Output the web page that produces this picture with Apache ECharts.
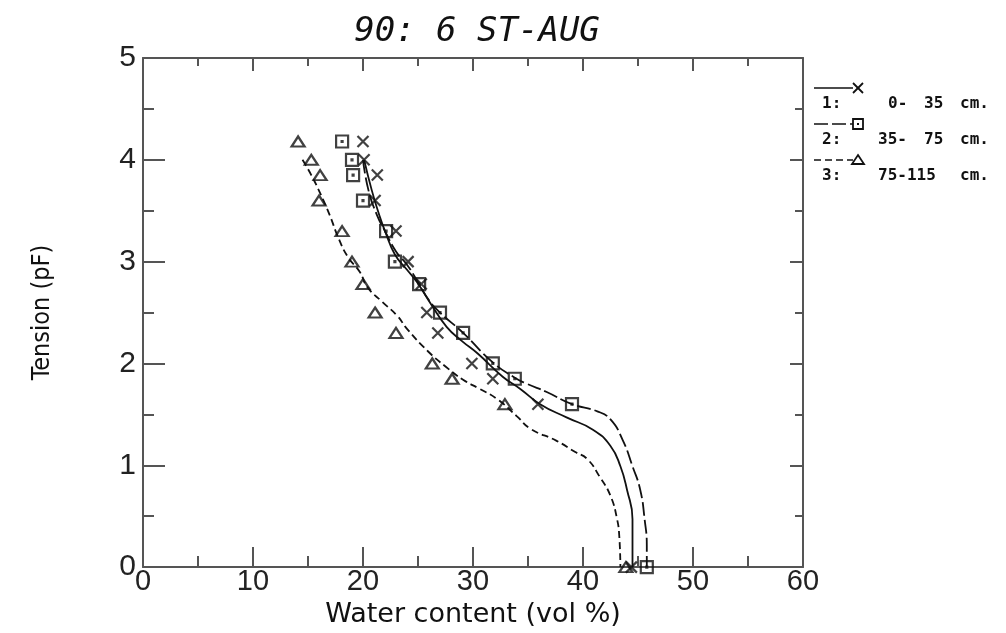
<!DOCTYPE html>
<html>
<head>
<meta charset="utf-8">
<script src="https://cdn.jsdelivr.net/npm/echarts@6/dist/echarts.min.js"></script>
<style>
  html, body { margin: 0; padding: 0; background: #fff; }
  #chart { width: 1006px; height: 633px; }
</style>
</head>
<body>
<div id="chart"></div>
<script>
  // 测点的吸力水平 (pF)
  var tension_levels = [4.18, 4.0, 3.85, 3.6, 3.3, 3.0, 2.78, 2.5, 2.3, 2.0, 1.85, 1.6, 0]
  // 各层实测含水量 (vol %)
  var water_1 = [20.0, 20.1, 21.3, 21.1, 23.0, 24.1, 25.3, 25.8, 26.8, 29.9, 31.8, 35.9, 44.4]
  var water_2 = [18.1, 19.0, 19.1, 20.0, 22.1, 22.9, 25.1, 27.0, 29.1, 31.8, 33.8, 39.0, 45.8]
  var water_3 = [14.1, 15.3, 16.1, 16.0, 18.1, 19.0, 20.0, 21.1, 23.0, 26.3, 28.1, 32.9, 43.9]

  // 拟合曲线
  var curve_1_x = [20.1, 20.8, 21.5, 22.0, 22.9, 24.0, 24.9, 26.2, 27.6, 29.0, 30.4, 32.7, 34.3, 36.1, 38.5, 40.9, 42.5, 43.4, 44.0, 44.5, 44.5, 44.5]
  var curve_1_y = [4.0, 3.7, 3.45, 3.3, 3.07, 2.92, 2.8, 2.58, 2.36, 2.22, 2.1, 1.87, 1.75, 1.6, 1.47, 1.35, 1.19, 0.99, 0.76, 0.47, 0.21, 0]
  var curve_2_x = [20.0, 20.5, 21.3, 22.0, 23.0, 24.0, 25.0, 26.0, 27.0, 29.1, 31.8, 33.8, 34.9, 36.7, 39.0, 41.3, 42.5, 43.6, 44.5, 45.2, 45.6, 45.8, 45.8]
  var curve_2_y = [4.0, 3.7, 3.45, 3.3, 3.1, 2.97, 2.8, 2.62, 2.5, 2.3, 2.01, 1.86, 1.8, 1.72, 1.6, 1.53, 1.45, 1.25, 0.99, 0.76, 0.47, 0.21, 0]
  var curve_3_x = [14.5, 15.3, 16.2, 17.0, 17.7, 18.6, 19.7, 20.4, 21.8, 23.1, 24.0, 25.9, 27.5, 29.1, 30.6, 32.2, 34.0, 35.2, 37.6, 39.3, 40.4, 41.5, 42.5, 43.1, 43.3, 43.4]
  var curve_3_y = [4.0, 3.85, 3.65, 3.45, 3.25, 3.05, 2.9, 2.75, 2.6, 2.47, 2.34, 2.12, 1.97, 1.84, 1.75, 1.65, 1.48, 1.36, 1.24, 1.13, 1.06, 0.89, 0.7, 0.47, 0.3, 0]

  var x_ticks = [0, 10, 20, 30, 40, 50, 60]
  var y_ticks = [0, 1, 2, 3, 4, 5]
  var legend_labels = [
    ['1:', '0-', '35', 'cm.'],
    ['2:', '35-', '75', 'cm.'],
    ['3:', '75-115', '', 'cm.']
  ]

  var pairs = function (xs, ys) {
    return xs.map(function (v, i) { return [v, ys[i]] })
  }

  var sym_cross = 'path://M0,0L10,10M10,0L0,10'
  var sym_square = 'path://M0,0H10V10H0Z M4.6,4.6H5.4V5.4H4.6Z'
  var sym_tri = 'path://M5,0L10,9L0,9Z'
  var ink = '#111'
  var axis_color = '#555'
  var tick_font = 'Liberation Sans'

  var my_chart = echarts.init(document.getElementById('chart'))

  var marker_series = function (name, data, sym, size) {
    return {
      name: name,
      type: 'scatter',
      xAxisIndex: 0,
      yAxisIndex: 0,
      data: data,
      symbol: sym,
      symbolSize: size,
      clip: false,
      z: 5,
      itemStyle: { color: 'rgba(0,0,0,0)', borderColor: ink, borderWidth: 2.2 }
    }
  }
  var curve_series = function (name, data, dash) {
    return {
      name: name,
      type: 'line',
      xAxisIndex: 0,
      yAxisIndex: 0,
      data: data,
      showSymbol: false,
      smooth: 0.5,
      z: 4,
      lineStyle: { color: ink, width: 1.8, type: dash }
    }
  }

  // 四周坐标轴的公共样式
  var frame_axis = function (tick_len, minor_len) {
    return {
      axisLine: { show: true, onZero: false, lineStyle: { color: axis_color, width: 2 } },
      axisTick: { show: true, inside: true, length: tick_len, lineStyle: { color: axis_color, width: 2 } },
      minorTick: { show: true, splitNumber: 2, length: minor_len, lineStyle: { color: axis_color, width: 2 } },
      splitLine: { show: false }
    }
  }

  // 右侧图例 (线段 + 符号 + 文字)
  var legend_graphic = []
  var legend_dash = [null, [14, 4], [7, 4]]
  var stroke_style = { fill: 'none', stroke: ink, lineWidth: 1.8 }
  for (var k = 0; k < 3; k++) {
    var ly = 88 + k * 36
    var mx = 858
    legend_graphic.push({
      type: 'line',
      shape: { x1: 814, y1: ly, x2: mx - 5, y2: ly },
      style: { stroke: ink, lineWidth: 1.6, lineDash: legend_dash[k] }
    })
    if (k === 0) {
      legend_graphic.push({ type: 'line', shape: { x1: mx - 5, y1: ly - 5, x2: mx + 5, y2: ly + 5 }, style: stroke_style })
      legend_graphic.push({ type: 'line', shape: { x1: mx - 5, y1: ly + 5, x2: mx + 5, y2: ly - 5 }, style: stroke_style })
    } else if (k === 1) {
      legend_graphic.push({ type: 'rect', shape: { x: mx - 5, y: ly - 5, width: 10, height: 10 }, style: stroke_style })
      legend_graphic.push({ type: 'rect', shape: { x: mx - 1, y: ly - 1, width: 2, height: 2 }, style: { fill: ink } })
    } else {
      legend_graphic.push({ type: 'polygon', shape: { points: [[mx, ly - 5], [mx + 6, ly + 4], [mx - 6, ly + 4]] }, style: stroke_style })
    }
    var parts = legend_labels[k]
    var px = [822, 888, 924, 960]
    if (k > 0) px[1] = 878
    for (var p = 0; p < 4; p++) {
      if (!parts[p]) continue
      legend_graphic.push({
        type: 'text',
        x: px[p],
        y: ly + 16,
        style: {
          text: parts[p],
          fill: ink,
          font: 'bold 16px "DejaVu Sans Mono"',
          textVerticalAlign: 'middle'
        }
      })
    }
  }

  my_chart.setOption({
    animation: false,
    backgroundColor: '#fff',
    title: {
      text: '90: 6 ST-AUG',
      left: 472,
      textAlign: 'center',
      top: 10,
      textStyle: {
        fontFamily: 'DejaVu Sans Mono',
        fontStyle: 'italic',
        fontWeight: 'normal',
        fontSize: 34,
        color: ink
      }
    },
    grid: { left: 143, top: 58, width: 660, height: 510, containLabel: false },
    graphic: legend_graphic,
    xAxis: [
      Object.assign({
        type: 'value',
        position: 'bottom',
        min: x_ticks[0],
        max: x_ticks[x_ticks.length - 1],
        interval: 10,
        name: 'Water content (vol %)',
        nameLocation: 'middle',
        nameGap: 24,
        nameTextStyle: { fontFamily: 'DejaVu Sans', fontSize: 27, color: ink, verticalAlign: 'top' },
        axisLabel: { margin: 0, fontFamily: tick_font, fontSize: 29, color: '#222' }
      }, frame_axis(20, 11)),
      Object.assign({
        type: 'value',
        position: 'top',
        min: x_ticks[0],
        max: x_ticks[x_ticks.length - 1],
        interval: 10,
        axisLabel: { show: false }
      }, frame_axis(13, 8))
    ],
    yAxis: [
      Object.assign({
        type: 'value',
        position: 'left',
        min: y_ticks[0],
        max: y_ticks[y_ticks.length - 1],
        interval: 1,
        name: 'Tension (pF)',
        nameLocation: 'middle',
        nameGap: 88,
        nameTextStyle: { fontFamily: 'DejaVu Sans Condensed', fontSize: 25, color: ink },
        axisLabel: { margin: 7, fontFamily: tick_font, fontSize: 30, color: '#222' }
      }, frame_axis(22, 11)),
      Object.assign({
        type: 'value',
        position: 'right',
        min: y_ticks[0],
        max: y_ticks[y_ticks.length - 1],
        interval: 1,
        axisLabel: { show: false }
      }, frame_axis(13, 8))
    ],
    series: [
      curve_series('1: 0-35 cm', pairs(curve_1_x, curve_1_y), 'solid'),
      curve_series('2: 35-75 cm', pairs(curve_2_x, curve_2_y), [14, 4]),
      curve_series('3: 75-115 cm', pairs(curve_3_x, curve_3_y), [7, 4]),
      marker_series('1 obs', pairs(water_1, tension_levels), sym_cross, [11, 11]),
      marker_series('2 obs', pairs(water_2, tension_levels), sym_square, [12, 12]),
      marker_series('3 obs', pairs(water_3, tension_levels), sym_tri, [13, 10])
    ]
  })
</script>
</body>
</html>
